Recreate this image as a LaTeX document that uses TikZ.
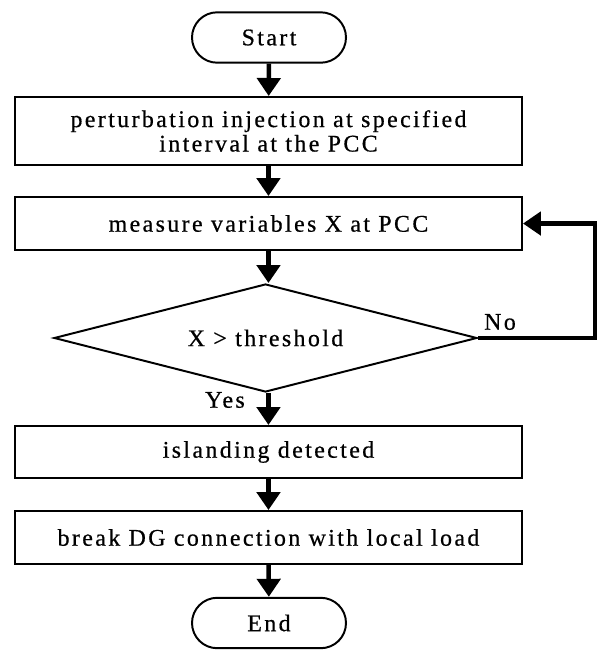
\documentclass[tikz,border=0pt]{standalone}
\usepackage{fontspec}
\setmainfont{Liberation Serif}[LetterSpace=10, FakeBold=0.6]
\usepackage{tikz}
\usetikzlibrary{arrows.meta, shapes.geometric, shapes.misc}

\tikzset{
term/.style={draw, line width=0.7pt, rounded rectangle, minimum width=1.925cm, minimum height=0.63cm, inner sep=0pt},
proc/.style={draw, line width=0.7pt, rectangle, minimum width=6.3375cm, inner sep=0pt, align=center},
decide/.style={draw, line width=0.7pt, diamond, aspect=3.9, minimum width=5.2875cm, minimum height=1.35cm, inner sep=0pt},
flow/.style={line width=1.6pt, -{Triangle[length=0.225cm, width=0.29cm]}}
}

\begin{document}
\begin{tikzpicture}[font=\fontsize{8.5}{7}\selectfont]
\useasboundingbox (0,0) rectangle (7.5125,-8.125);
\node[term] (start) at (3.3625,-0.469) {Start};
\node[proc, minimum height=0.85cm] (inject) at (3.356,-1.6375) {perturbation injection at specified\\interval at the PCC};
\node[proc, minimum height=0.6625cm] (meas) at (3.356,-2.794) {measure variables X at PCC};
\node[decide] (check) at (3.319,-4.225) {X > threshold};
\node[proc, minimum height=0.65cm] (island) at (3.356,-5.65) {islanding detected};
\node[proc, minimum height=0.6625cm] (brk) at (3.356,-6.719) {break DG connection with local load};
\node[term] (stop) at (3.3625,-7.7875) {End};
\coordinate (back) at (7.4375,-2.794);
\draw[flow] (start) -- (inject);
\draw[flow] (inject) -- (meas);
\draw[flow] (meas) -- (check.north -| meas);
\draw[flow] (check.south -| meas) -- (island);
\draw[flow] (island) -- (brk);
\draw[flow] (brk) -- (stop);
\draw[flow] (check.east) -| (back) -- (meas.east);
\node (no) at (6.25,-4.025) {No};
\node (yes) at (2.8125,-5.0) {Yes};
\end{tikzpicture}
\end{document}
